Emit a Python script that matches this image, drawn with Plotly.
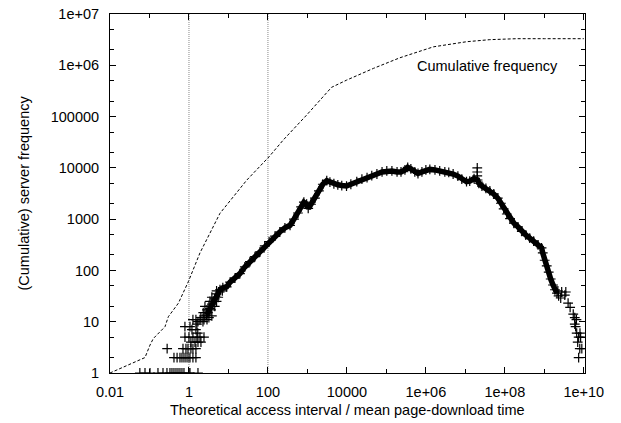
import plotly.graph_objects as go

# ---------------- data ----------------
cum_x = [0.01, 0.077, 0.103, 0.125, 0.247, 0.30, 0.54, 0.79, 0.96, 1.9, 6.1, 29, 107,
         245, 955, 4070, 9800, 47000, 219000, 1.55e6, 1.07e7, 4.17e7, 2e8, 1e9, 1e10]
cum_y = [1, 2, 3.5, 4.7, 8, 12.5, 23, 45, 60, 220, 1300, 5750, 16500,
         35000, 107000, 371000, 513000, 870000, 1.40e6, 2.29e6, 2.88e6, 3.16e6, 3.3e6, 3.3e6, 3.3e6]

band_x = [2.8, 3.4, 4.1, 5.0, 6.1, 7.2, 9.0, 11, 14.6, 19.5,
          26, 35, 47, 63, 83, 107, 151, 200, 269, 363,
          457, 575, 692, 813, 955, 1047, 1230, 1549, 1950, 2455,
          3090, 3715, 4677, 5888, 7413, 9772, 12589, 17783, 23988, 32359,
          42658, 57544, 77625, 102329, 138038, 186209, 234423, 295121, 346737, 416869,
          524807, 630957, 794328, 1.0e6, 1.26e6, 1.70e6, 2.24e6, 3.02e6, 3.80e6, 4.90e6,
          6.46e6, 8.13e6, 1.07e7, 1.29e7, 1.66e7, 2.04e7, 2.19e7, 2.63e7, 3.31e7, 4.17e7,
          5.25e7, 6.61e7, 7.94e7, 9.33e7, 1.12e8, 1.35e8, 1.70e8, 2.14e8, 2.69e8, 3.39e8,
          4.27e8, 5.37e8, 6.92e8, 8.51e8, 9.12e8, 1.02e9, 1.15e9, 1.29e9, 1.45e9, 1.66e9,
          1.86e9, 2.09e9]
band_y = [13.5, 18, 25, 35, 42, 46, 48, 59, 71, 87,
          117, 148, 186, 229, 302, 363, 468, 562, 676, 759,
          1000, 1318, 1738, 2138, 1950, 1622, 1950, 2570, 3548, 4786,
          5623, 5248, 4898, 4677, 4520, 4416, 4786, 5370, 6026, 6457,
          7079, 7586, 8318, 8710, 8710, 8318, 8318, 9120, 10233, 9550,
          8318, 7762, 8318, 9120, 9333, 9120, 8710, 8318, 8128, 7586,
          6918, 6026, 5370, 5495, 6166, 5800, 5012, 4416, 3981, 3548,
          3090, 2570, 2042, 1585, 1259, 1023, 832, 708, 575, 490,
          427, 372, 316, 275, 219, 158, 123, 93, 68, 52,
          42, 36]

spike_x = [2.0e7, 2.0e7, 2.0e7]
spike_y = [10000, 8300, 7000]

left_x = [0.057, 0.077, 0.103, 0.164, 0.22, 0.277, 0.33, 0.371, 0.417, 0.469, 0.527, 0.592, 0.665, 0.747, 1.0, 1.06, 1.69,
          0.417, 0.50, 0.592, 0.665, 0.747, 0.839, 0.944, 1.06, 1.26, 1.5,
          0.28, 0.705, 0.839, 0.944, 1.12, 1.26, 1.5,
          1.12, 1.42, 1.69, 2.01,
          0.792, 1.0, 1.26, 1.59, 1.9, 2.4,
          1.67, 1.19, 1.5, 1.06, 0.79, 1.59,
          1.69, 2.26, 1.26, 1.5, 1.9, 2.4, 2.86,
          2.0, 3.2, 2.54, 3.8, 2.3, 3.0, 2.86, 3.6,
          2.54, 3.2, 4.5, 3.8, 3.4, 5.0, 4.5, 3.8, 5.5, 6.0, 5.0, 7.0]
left_y = [1, 1, 1, 1, 1, 1, 1, 1, 1, 1, 1, 1, 1, 1, 1, 1, 1,
          2, 2, 2, 2, 2, 2, 2, 2, 2, 2,
          3, 3, 3, 3, 3, 3, 3,
          4, 4, 4, 4,
          5, 5, 5, 5, 5, 5,
          6, 7, 7, 8, 8, 9,
          10, 10, 11, 11, 11, 11, 11,
          12, 12, 13, 13, 15, 15, 17, 17,
          20, 20, 20, 22, 25, 25, 28, 30, 30, 38, 40, 40]

tail_x = [2.2e9, 2.3e9, 2.6e9, 2.75e9, 3.3e9, 3.5e9, 4.0e9, 4.5e9, 5.4e9, 5.9e9, 6.5e9,
          5.9e9, 6.2e9, 6.6e9, 8.0e9, 7.4e9, 8.3e9, 7.0e9, 7.9e9, 8.9e9, 7.4e9]
tail_y = [40, 32, 29, 38, 33, 38, 23, 19, 14, 12, 11,
          9, 8, 6, 6, 5, 5, 4, 3, 3, 2]

guide_x = [1, 100]

x_tickvals = [0.01, 1, 100, 1e4, 1e6, 1e8, 1e10]
x_ticktext = ["0.01", "1", "100", "10000", "1e+06", "1e+08", "1e+10"]
x_minor = [0.1, 10, 1000, 1e5, 1e7, 1e9]
y_tickvals = [1, 10, 100, 1000, 1e4, 1e5, 1e6, 1e7]
y_ticktext = ["1", "10", "100", "1000", "10000", "100000", "1e+06", "1e+07"]
y_minor = [m * d for d in [1, 10, 100, 1000, 1e4, 1e5, 1e6] for m in (2, 5)]

label_text = "Cumulative frequency"
x_title = "Theoretical access interval / mean page-download time"
y_title = "(Cumulative) server frequency"

# ---------------- figure ----------------
FONT = "Liberation Sans, Arial, Helvetica, sans-serif"
FS = 14.5
fig = go.Figure()

for gx in guide_x:
    fig.add_trace(go.Scatter(x=[gx, gx], y=[1, 1e7], mode="lines",
                             line=dict(color="#888888", width=1, dash="1px,1px"),
                             hoverinfo="skip", showlegend=False))

fig.add_trace(go.Scatter(x=cum_x, y=cum_y, mode="lines",
                         line=dict(color="black", width=1, dash="3px,2px"),
                         showlegend=False))

mk = dict(symbol="cross-thin-open", size=7, line=dict(color="black", width=1.2), color="black")
fig.add_trace(go.Scatter(x=band_x, y=band_y, mode="lines+markers",
                         line=dict(color="black", width=5.5), marker=mk, showlegend=False))
for xs, ys in [(spike_x, spike_y), (left_x, left_y), (tail_x, tail_y)]:
    fig.add_trace(go.Scatter(x=xs, y=ys, mode="markers", marker=mk, showlegend=False))

fig.add_annotation(text=label_text, xref="paper", yref="paper", x=0.795, y=0.855,
                   xanchor="center", yanchor="middle", showarrow=False,
                   font=dict(family=FONT, size=FS, color="black"))
fig.add_annotation(text=x_title, xref="paper", yref="paper", x=0.5, y=0,
                   xanchor="center", yanchor="middle", yshift=-37, showarrow=False,
                   font=dict(family=FONT, size=FS, color="black"))
fig.add_annotation(text=y_title, xref="paper", yref="paper", x=0, y=0.5,
                   xanchor="center", yanchor="middle", xshift=-87, textangle=-90,
                   showarrow=False, font=dict(family=FONT, size=FS, color="black"))

axis_common = dict(type="log", showgrid=False, zeroline=False, showline=True,
                   automargin=False,
                   linecolor="black", linewidth=1, mirror="ticks", ticks="inside",
                   ticklen=6, tickwidth=1, tickcolor="black",
                   tickfont=dict(family=FONT, size=FS, color="black"))

fig.update_layout(
    template="none",
    width=621, height=423,
    margin=dict(l=110, r=36, t=14, b=50),
    paper_bgcolor="white", plot_bgcolor="white",
    font=dict(family=FONT, size=FS, color="black"),
    showlegend=False,
    xaxis=dict(range=[-2, 10.03], tickmode="array", tickvals=x_tickvals, ticktext=x_ticktext,
               ticklabelstandoff=6,
               minor=dict(tickmode="array", tickvals=x_minor, ticks="inside", ticklen=4,
                          tickcolor="black", showgrid=False),
               **axis_common),
    yaxis=dict(range=[0, 7], tickmode="array", tickvals=y_tickvals, ticktext=y_ticktext,
               ticklabelstandoff=7,
               minor=dict(tickmode="array", tickvals=y_minor, ticks="inside", ticklen=4,
                          tickcolor="black", showgrid=False),
               **axis_common),
)

fig.write_html("out.html", config={"displayModeBar": False},
               post_script="document.body.style.margin='0';")
